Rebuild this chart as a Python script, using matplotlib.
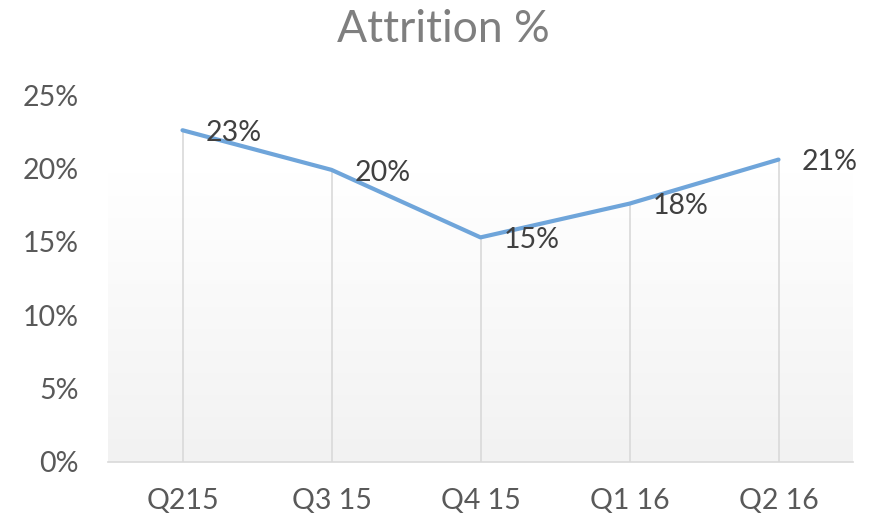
import matplotlib.pyplot as plt
import numpy as np

# data
quarters = ["Q215", "Q3 15", "Q4 15", "Q1 16", "Q2 16"]
attrition = [22.6, 19.9, 15.3, 17.6, 20.6]
labels = ["23%", "20%", "15%", "18%", "21%"]
yticks = [0, 5, 10, 15, 20, 25]

plt.rcParams['font.family'] = ['Lato', 'DejaVu Sans']

fig = plt.figure(figsize=(8.81, 5.21), dpi=100)
ax = fig.add_axes([108 / 881, 59 / 521, 745 / 881, 367 / 521])

x = np.arange(len(quarters))
ax.set_xlim(-0.5, len(quarters) - 0.5)
ax.set_ylim(0, 25)

# gradient background, white at top to light gray at bottom
grad = np.linspace(1.0, 0.0, 256).reshape(-1, 1)
grad = np.clip(grad / 0.88, 0, 1)
top = np.array([1.0, 1.0, 1.0])
bot = np.array([0xf2, 0xf2, 0xf2]) / 255.0
img = bot + (top - bot) * grad[..., None]
ax.imshow(img, extent=[-0.5, len(quarters) - 0.5, 0, 22.3], aspect='auto',
          zorder=0, origin='upper')

# drop lines
ax.vlines(x, 0, attrition, color='#d9d9d9', lw=1.2, zorder=1)

ax.plot(x, attrition, color='#6fa5da', lw=3, solid_capstyle='round', zorder=3)

for xi, yi, lab in zip(x, attrition, labels):
    ax.annotate(lab, (xi, yi), xytext=(17, -2), textcoords='offset points',
                ha='left', va='center', fontsize=20.5, color='#404040', zorder=4)

ax.set_xticks(x)
ax.set_xticklabels(quarters)
ax.set_yticks(yticks)
ax.set_yticklabels([f"{t}%" for t in yticks])
ax.tick_params(axis='both', length=0, labelsize=20.5, colors='#595959')
ax.tick_params(axis='x', pad=19)
ax.tick_params(axis='y', pad=21)

for s in ['top', 'right', 'left']:
    ax.spines[s].set_visible(False)
ax.spines['bottom'].set_color('#d9d9d9')
ax.spines['bottom'].set_linewidth(1.2)

fig.text(443 / 881, 1 - 30 / 521, "Attrition %", ha='center', va='center',
         fontsize=32, color='#7f7f7f')

fig.savefig("out.png", dpi=100)
